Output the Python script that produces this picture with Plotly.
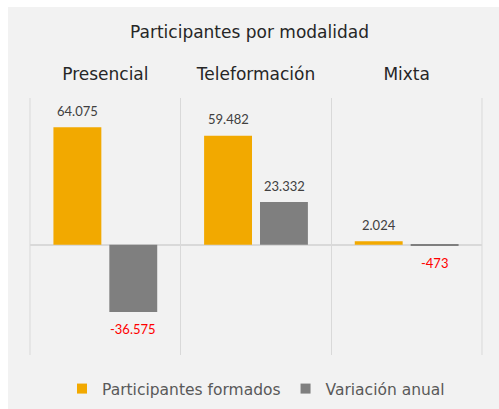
import plotly.graph_objects as go

categories = ["Presencial", "Teleformación", "Mixta"]
participantes = [64075, 59482, 2024]
variacion = [-36575, 23332, -473]
series_names = ["Participantes formados", "Variación anual"]
colors = ["#F2A900", "#7F7F7F"]


def fmt(v):
    s = f"{abs(v):,}".replace(",", ".")
    return ("-" if v < 0 else "") + s


W, H = 499, 409
L, R, T, B = 30, 17, 98, 54
pw, ph = W - L - R, H - T - B


def px(x):
    return (x - L) / pw


def py(y):
    return (H - B - y) / ph


panel = "#F2F2F2"
grid = "#D9D9D9"
head_font = "DejaVu Sans"
label_font = "Lato"

fig = go.Figure()
for vals, name, col in [(participantes, series_names[0], colors[0]),
                        (variacion, series_names[1], colors[1])]:
    fig.add_trace(go.Bar(x=categories, y=vals, name=name, showlegend=False,
                         marker=dict(color=col, line=dict(width=0))))
    # legend proxy with smaller square symbol
    fig.add_trace(go.Scatter(x=[None], y=[None], name=name, mode="markers",
                             marker=dict(symbol="square", size=10, color=col)))

annotations = []
for vals, shift in [(participantes, -28), (variacion, 28)]:
    for c, v in zip(categories, vals):
        annotations.append(dict(
            x=c, y=v, xref="x", yref="y", text=fmt(v), showarrow=False,
            xshift=shift, yshift=16.5 if v >= 0 else -17, yanchor="middle",
            font=dict(family=label_font, size=13,
                      color="#FF0000" if v < 0 else "#404040")))

fig.update_layout(
    width=W, height=H,
    margin=dict(l=L, r=R, t=T, b=B, pad=0, autoexpand=False),
    paper_bgcolor="white",
    plot_bgcolor=panel,
    barmode="group",
    bargap=0.258,
    bargroupgap=0.143,
    showlegend=True,
    legend=dict(orientation="h", x=0.5, xanchor="center", y=py(389), yanchor="middle",
                font=dict(family=head_font, size=15.5, color="#595959"),
                bgcolor="rgba(0,0,0,0)", traceorder="normal"),
    title=dict(text="Participantes por modalidad", x=0.5, xanchor="center",
               xref="container", y=1 - 32 / H, yanchor="middle", yref="container",
               font=dict(family=head_font, size=17, color="#262626")),
    annotations=annotations,
    shapes=[
        dict(type="rect", xref="paper", yref="paper",
             x0=px(8), x1=px(W + 5), y0=py(H + 5), y1=py(7),
             fillcolor=panel, line=dict(width=0), layer="below"),
        dict(type="line", xref="paper", yref="paper", x0=0, x1=0, y0=0, y1=1,
             line=dict(color=grid, width=1), layer="below"),
        dict(type="line", xref="paper", yref="paper", x0=1, x1=1, y0=0, y1=1,
             line=dict(color=grid, width=1), layer="below"),
    ],
    xaxis=dict(side="top", tickson="boundaries", showgrid=True, gridcolor=grid,
               gridwidth=1, ticks="", showline=False, zeroline=False, automargin=False,
               tickfont=dict(family=head_font, size=17, color="#262626"),
               ticklabelstandoff=14),
    yaxis=dict(range=[-60000, 80000], showgrid=False, showticklabels=False,
               zeroline=True, zerolinecolor=grid, zerolinewidth=1.5, automargin=False,
               showline=False, ticks=""),
)

fig.write_html("out.html", config={"displayModeBar": False},
               post_script="document.body.style.margin='0';document.body.style.padding='0';")
